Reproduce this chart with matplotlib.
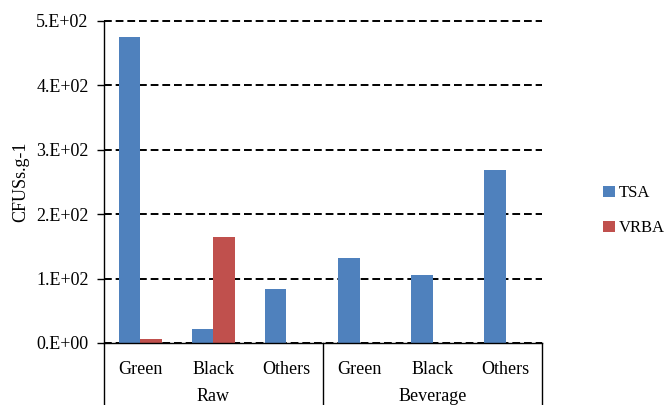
import matplotlib
matplotlib.use('Agg')
import matplotlib.pyplot as plt
import matplotlib.transforms as mtransforms
import numpy as np

# data
categories = ["Green", "Black", "Others", "Green", "Black", "Others"]
groups = ["Raw", "Beverage"]
tsa = [475, 21, 84, 132, 106, 268]
vrba = [6, 164, 0, 0, 0, 0]
yticks = [0, 100, 200, 300, 400, 500]
ytick_labels = ["0.E+00", "1.E+02", "2.E+02", "3.E+02", "4.E+02", "5.E+02"]

blue = '#4F81BD'
red = '#C0504D'

plt.rcParams['font.family'] = ['Liberation Serif', 'DejaVu Serif']
fs = 13

fig = plt.figure(figsize=(6.64, 4.05), dpi=100)
ax = fig.add_axes([0.1566, 0.1531, 0.8163 - 0.1566, 0.9489 - 0.1531])

x = np.arange(len(categories))
w = 0.29
ax.bar(x - w / 2, tsa, w, color=blue, label='TSA', zorder=3)
ax.bar(x + w / 2, vrba, w, color=red, label='VRBA', zorder=3)

ax.set_xlim(-0.5, len(categories) - 0.5)
ax.set_ylim(0, 500)
ax.set_yticks(yticks)
ax.set_yticklabels(ytick_labels, fontsize=fs)
ax.yaxis.grid(True, color='black', linestyle=(0, (4, 2)), linewidth=1.4, zorder=0)
for gl in ax.get_ygridlines():
    gl.set_clip_on(False)
ax.set_ylabel('CFUSs.g-1', fontsize=fs, labelpad=5)

ax.set_xticks(x)
ax.set_xticklabels(categories, fontsize=fs)
ax.tick_params(axis='x', length=0, pad=13)
ax.tick_params(axis='y', length=5, width=1, direction='out', pad=6)

for s in ['top', 'right']:
    ax.spines[s].set_visible(False)
ax.spines['left'].set_linewidth(1)
ax.spines['bottom'].set_linewidth(1)
ax.spines['bottom'].set_zorder(4)

# group boxes under the axis
trans = mtransforms.blended_transform_factory(ax.transData, ax.transAxes)
for xb in [-0.5, 2.5, 5.5]:
    ax.plot([xb, xb], [0, -0.25], color='black', lw=1, transform=trans, clip_on=False)
for i, g in enumerate(groups):
    ax.text(1 + 3 * i, -0.14, g, transform=trans, ha='center', va='top', fontsize=fs)

ax.legend(loc='center left', bbox_to_anchor=(1.14, 0.41), frameon=False,
          fontsize=12, handlelength=0.7, handleheight=0.7, handletextpad=0.2,
          labelspacing=1.15, borderaxespad=0, borderpad=0)

fig.savefig('out.png', dpi=100)
